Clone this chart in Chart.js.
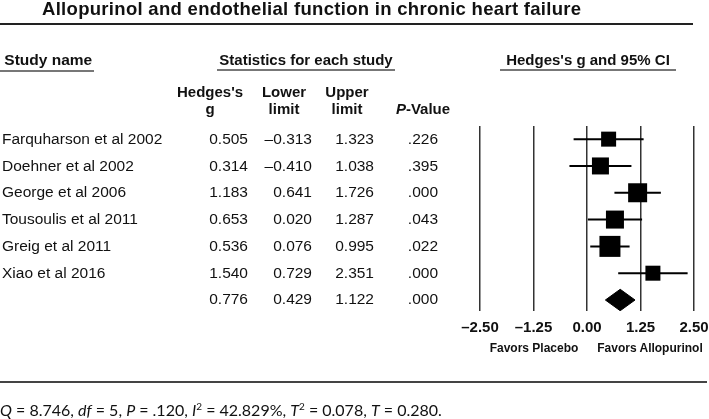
<!DOCTYPE html>
<html>
<head>
<meta charset="utf-8">
<script src="https://cdn.jsdelivr.net/npm/chart.js@4"></script>
<style>
  body { margin: 0; background: #fff; }
  #wrap { position: relative; width: 709px; height: 419px; overflow: hidden; font-family: "Liberation Sans", Arial, sans-serif; color: #111; }
  #wrap canvas { position: absolute; left: 0; top: 0; }
  .t { position: absolute; white-space: nowrap; line-height: 1; }
  .b { font-weight: bold; }
  .r { text-align: right; }
  .c { text-align: center; }
  .u { border-bottom: 2px solid #777; padding-bottom: 2px; }
  .hr { position: absolute; left: 0; background: #222; }
</style>
</head>
<body>
<div id="wrap">
  <canvas id="forest" width="709" height="419"></canvas>
  <div class="t b" style="left:42px;top:0px;font-size:18.5px;letter-spacing:0.3px;">Allopurinol and endothelial function in chronic heart failure</div>
  <div class="hr" style="top:23px;height:2px;width:693px;"></div>

  <div class="t b u" style="left:0;top:52px;font-size:15.5px;padding-right:2px;">&nbsp;Study name</div>
  <div class="t b u" style="left:217px;top:52px;font-size:15px;width:178px;text-align:center;">Statistics for each study</div>
  <div class="t b u" style="left:500px;top:52px;font-size:15px;width:176px;text-align:center;">Hedges's g and 95% CI</div>

  <div class="t b c" style="left:170px;top:83px;width:80px;font-size:15px;line-height:17px;">Hedges's<br>g</div>
  <div class="t b c" style="left:254px;top:83px;width:60px;font-size:15px;line-height:17px;">Lower<br>limit</div>
  <div class="t b c" style="left:316px;top:83px;width:62px;font-size:15px;line-height:17px;">Upper<br>limit</div>
  <div class="t b c" style="left:388px;top:101px;width:70px;font-size:15px;"><i>P</i>-Value</div>

  <div id="table"></div>

  <div class="t b c" style="left:484px;top:342px;width:100px;font-size:12px;">Favors Placebo</div>
  <div class="t b c" style="left:594px;top:342px;width:112px;font-size:12px;">Favors Allopurinol</div>

  <div class="hr" style="top:381px;height:1.5px;width:707px;background:#444;"></div>
  <div class="t" style="left:0;top:401px;font-size:16px;font-family:Lato, 'Open Sans', sans-serif;">
    <i>Q</i> = 8.746, <i>df</i> = 5, <i>P</i> = .120, <i>I</i><sup style="font-size:10px;">2</sup> = 42.829%, <i>T</i><sup style="font-size:10px;">2</sup> = 0.078, <i>T</i> = 0.280.
  </div>
</div>

<script>
// study rows, last row is the pooled estimate
const studies = ["Farquharson et al 2002", "Doehner et al 2002", "George et al 2006",
  "Tousoulis et al 2011", "Greig et al 2011", "Xiao et al 2016", ""];
const hedgesG = [0.505, 0.314, 1.183, 0.653, 0.536, 1.540, 0.776];
const lowerLimit = [-0.313, -0.410, 0.641, 0.020, 0.076, 0.729, 0.429];
const upperLimit = [1.323, 1.038, 1.726, 1.287, 0.995, 2.351, 1.122];
const pValues = [".226", ".395", ".000", ".043", ".022", ".000", ".000"];
// square side (relative weight)
const weights = [15, 17, 19, 18, 21, 15];
const xTicks = [-2.5, -1.25, 0, 1.25, 2.5];

const rowTop = 139;  // pixel of first row
const rowStep = 26.7;

function fmt(v) {
  return v < 0 ? "\u2013" + Math.abs(v).toFixed(3) : v.toFixed(3);
}

// table text
const table = document.getElementById("table");
studies.forEach(function (name, i) {
  const y = rowTop + rowStep * i - 8;
  let html = '<div class="t" style="left:2px;top:' + y + 'px;font-size:15.5px;">' + name + '</div>';
  html += '<div class="t r" style="left:180px;width:68px;top:' + y + 'px;font-size:15.5px;">' + hedgesG[i].toFixed(3) + '</div>';
  html += '<div class="t r" style="left:240px;width:72px;top:' + y + 'px;font-size:15.5px;">' + fmt(lowerLimit[i]) + '</div>';
  html += '<div class="t r" style="left:310px;width:64px;top:' + y + 'px;font-size:15.5px;">' + upperLimit[i].toFixed(3) + '</div>';
  html += '<div class="t r" style="left:390px;width:48px;top:' + y + 'px;font-size:15.5px;">' + pValues[i] + '</div>';
  table.insertAdjacentHTML("beforeend", html);
});

// CI segments, broken with null gaps
const ciData = [];
for (let i = 0; i < 6; i++) {
  ciData.push({ x: lowerLimit[i], y: i }, { x: upperLimit[i], y: i }, { x: null, y: null });
}
const squareData = hedgesG.slice(0, 6).map(function (g, i) { return { x: g, y: i }; });
const diamond = [
  { x: lowerLimit[6], y: 6 }, { x: hedgesG[6], y: 6 - 0.4 },
  { x: upperLimit[6], y: 6 }, { x: hedgesG[6], y: 6 + 0.4 }, { x: lowerLimit[6], y: 6 }
];

new Chart("forest", {
  type: "scatter",
  data: {
    datasets: [
      {
        type: "line",
        data: ciData,
        borderColor: "#000",
        borderWidth: 2,
        pointRadius: 0,
        spanGaps: false
      },
      {
        data: squareData,
        pointStyle: "rect",
        pointRadius: weights.map(function (w) { return w / Math.SQRT2; }),
        backgroundColor: "#000",
        borderColor: "#000",
        borderWidth: 0
      },
      {
        type: "line",
        data: diamond,
        borderColor: "#000",
        borderWidth: 1,
        backgroundColor: "#000",
        fill: "shape",
        pointRadius: 0,
        tension: 0
      }
    ]
  },
  options: {
    responsive: false,
    animation: false,
    layout: { padding: { left: 480, right: 15, top: 126, bottom: 74 } },
    plugins: { legend: { display: false }, tooltip: { enabled: false } },
    scales: {
      x: {
        min: -2.5,
        max: 2.5,
        afterBuildTicks: function (axis) {
          axis.ticks = xTicks.map(function (v) { return { value: v }; });
        },
        afterFit: function (axis) {
          // let the layout padding alone decide the plot width
          axis.paddingLeft = 0;
          axis.paddingRight = 0;
        },
        grid: { color: "#333", lineWidth: 1.5, drawTicks: false },
        border: { display: false },
        ticks: {
          padding: 8,
          color: "#111",
          font: { family: "'Liberation Sans', Arial", size: 15, weight: "bold" },
          callback: function (v) {
            return v < 0 ? "\u2013" + Math.abs(v).toFixed(2) : v.toFixed(2);
          }
        }
      },
      y: {
        display: false,
        reverse: true,
        min: -0.49,
        max: 6.41
      }
    }
  }
});
</script>
</body>
</html>
